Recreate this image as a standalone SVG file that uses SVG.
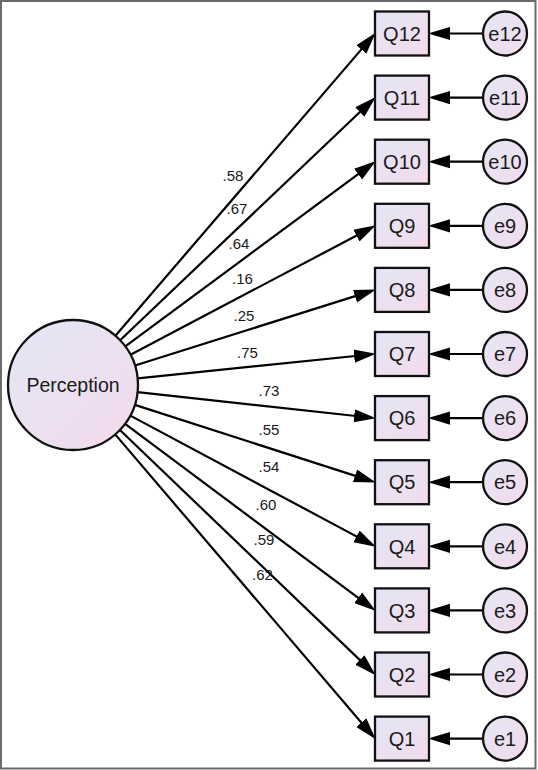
<svg xmlns="http://www.w3.org/2000/svg" width="538" height="770" viewBox="0 0 538 770">
<style>
.box{fill:url(#g);stroke:#111;stroke-width:2.3}
.circ{fill:url(#g);stroke:#111;stroke-width:2.3}
.ln{stroke:#000;stroke-width:2.2;fill:none;marker-end:url(#ah)}
.lbl{font-family:"Liberation Sans",Arial,sans-serif;font-size:15px;fill:#1a1a1a;text-anchor:middle}
.nt{font-family:"Liberation Sans",Arial,sans-serif;font-size:20px;fill:#1a1a1a;text-anchor:middle}
</style>
<defs>
<linearGradient id="g" x1="0" y1="0" x2="1" y2="1">
<stop offset="0" stop-color="#e3e7f6"/>
<stop offset="1" stop-color="#f3daec"/>
</linearGradient>
<marker id="ah" markerUnits="userSpaceOnUse" markerWidth="22" markerHeight="14" refX="10" refY="6" orient="auto" viewBox="0 0 20 12">
<path d="M0,0 L20,6 L0,12 z" fill="#000"/>
</marker>
</defs>
<rect x="1" y="1" width="534.5" height="767.5" fill="#fff" stroke="#6b6b6b" stroke-width="2"/>
<g id="connectors">
<line class="ln" x1="115.4" y1="335.7" x2="368.5" y2="41.1"/>
<line class="ln" x1="120.1" y1="340.2" x2="367.8" y2="104.5"/>
<line class="ln" x1="125.3" y1="346.4" x2="367.0" y2="167.6"/>
<line class="ln" x1="130.5" y1="354.7" x2="366.2" y2="230.5"/>
<line class="ln" x1="135.0" y1="365.5" x2="365.5" y2="292.9"/>
<line class="ln" x1="137.7" y1="378.4" x2="365.1" y2="355.0"/>
<line class="ln" x1="137.6" y1="392.1" x2="365.1" y2="417.0"/>
<line class="ln" x1="134.9" y1="404.9" x2="365.5" y2="479.1"/>
<line class="ln" x1="130.3" y1="415.6" x2="366.2" y2="541.6"/>
<line class="ln" x1="125.1" y1="423.9" x2="367.0" y2="604.4"/>
<line class="ln" x1="119.9" y1="430.0" x2="367.8" y2="667.6"/>
<line class="ln" x1="115.2" y1="434.4" x2="368.5" y2="731.0"/>
<line class="ln" x1="483" y1="33.5" x2="439" y2="33.5"/>
<line class="ln" x1="483" y1="97.6" x2="439" y2="97.6"/>
<line class="ln" x1="483" y1="161.7" x2="439" y2="161.7"/>
<line class="ln" x1="483" y1="225.8" x2="439" y2="225.8"/>
<line class="ln" x1="483" y1="289.9" x2="439" y2="289.9"/>
<line class="ln" x1="483" y1="354.0" x2="439" y2="354.0"/>
<line class="ln" x1="483" y1="418.1" x2="439" y2="418.1"/>
<line class="ln" x1="483" y1="482.2" x2="439" y2="482.2"/>
<line class="ln" x1="483" y1="546.3" x2="439" y2="546.3"/>
<line class="ln" x1="483" y1="610.4" x2="439" y2="610.4"/>
<line class="ln" x1="483" y1="674.5" x2="439" y2="674.5"/>
<line class="ln" x1="483" y1="738.6" x2="439" y2="738.6"/>
<text class="lbl" x="233" y="181">.58</text>
<text class="lbl" x="237" y="214">.67</text>
<text class="lbl" x="239" y="249">.64</text>
<text class="lbl" x="242.5" y="284">.16</text>
<text class="lbl" x="244" y="321">.25</text>
<text class="lbl" x="247.5" y="358">.75</text>
<text class="lbl" x="269" y="396">.73</text>
<text class="lbl" x="269" y="435">.55</text>
<text class="lbl" x="269" y="471.5">.54</text>
<text class="lbl" x="266" y="510">.60</text>
<text class="lbl" x="264" y="545">.59</text>
<text class="lbl" x="262.5" y="580">.62</text>
</g>
<g id="perception"><circle class="circ" cx="73" cy="385" r="65"/><text x="73" y="392" font-family="Liberation Sans, Arial, sans-serif" font-size="19.5" fill="#1a1a1a" text-anchor="middle">Perception</text></g>
<g id="Q12"><rect class="box" x="375" y="11.5" width="54" height="44"/><text class="nt" x="402" y="40.7">Q12</text></g>
<g id="Q11"><rect class="box" x="375" y="75.6" width="54" height="44"/><text class="nt" x="402" y="104.8">Q11</text></g>
<g id="Q10"><rect class="box" x="375" y="139.7" width="54" height="44"/><text class="nt" x="402" y="168.9">Q10</text></g>
<g id="Q9"><rect class="box" x="375" y="203.8" width="54" height="44"/><text class="nt" x="402" y="233">Q9</text></g>
<g id="Q8"><rect class="box" x="375" y="267.9" width="54" height="44"/><text class="nt" x="402" y="297.1">Q8</text></g>
<g id="Q7"><rect class="box" x="375" y="332" width="54" height="44"/><text class="nt" x="402" y="361.2">Q7</text></g>
<g id="Q6"><rect class="box" x="375" y="396.1" width="54" height="44"/><text class="nt" x="402" y="425.3">Q6</text></g>
<g id="Q5"><rect class="box" x="375" y="460.2" width="54" height="44"/><text class="nt" x="402" y="489.4">Q5</text></g>
<g id="Q4"><rect class="box" x="375" y="524.3" width="54" height="44"/><text class="nt" x="402" y="553.5">Q4</text></g>
<g id="Q3"><rect class="box" x="375" y="588.4" width="54" height="44"/><text class="nt" x="402" y="617.6">Q3</text></g>
<g id="Q2"><rect class="box" x="375" y="652.5" width="54" height="44"/><text class="nt" x="402" y="681.7">Q2</text></g>
<g id="Q1"><rect class="box" x="375" y="716.6" width="54" height="44"/><text class="nt" x="402" y="745.8">Q1</text></g>
<g id="e12"><circle class="circ" cx="505" cy="33.5" r="22"/><text class="nt" x="505" y="40.7">e12</text></g>
<g id="e11"><circle class="circ" cx="505" cy="97.6" r="22"/><text class="nt" x="505" y="104.8">e11</text></g>
<g id="e10"><circle class="circ" cx="505" cy="161.7" r="22"/><text class="nt" x="505" y="168.9">e10</text></g>
<g id="e9"><circle class="circ" cx="505" cy="225.8" r="22"/><text class="nt" x="505" y="233">e9</text></g>
<g id="e8"><circle class="circ" cx="505" cy="289.9" r="22"/><text class="nt" x="505" y="297.1">e8</text></g>
<g id="e7"><circle class="circ" cx="505" cy="354" r="22"/><text class="nt" x="505" y="361.2">e7</text></g>
<g id="e6"><circle class="circ" cx="505" cy="418.1" r="22"/><text class="nt" x="505" y="425.3">e6</text></g>
<g id="e5"><circle class="circ" cx="505" cy="482.2" r="22"/><text class="nt" x="505" y="489.4">e5</text></g>
<g id="e4"><circle class="circ" cx="505" cy="546.3" r="22"/><text class="nt" x="505" y="553.5">e4</text></g>
<g id="e3"><circle class="circ" cx="505" cy="610.4" r="22"/><text class="nt" x="505" y="617.6">e3</text></g>
<g id="e2"><circle class="circ" cx="505" cy="674.5" r="22"/><text class="nt" x="505" y="681.7">e2</text></g>
<g id="e1"><circle class="circ" cx="505" cy="738.6" r="22"/><text class="nt" x="505" y="745.8">e1</text></g>
</svg>
